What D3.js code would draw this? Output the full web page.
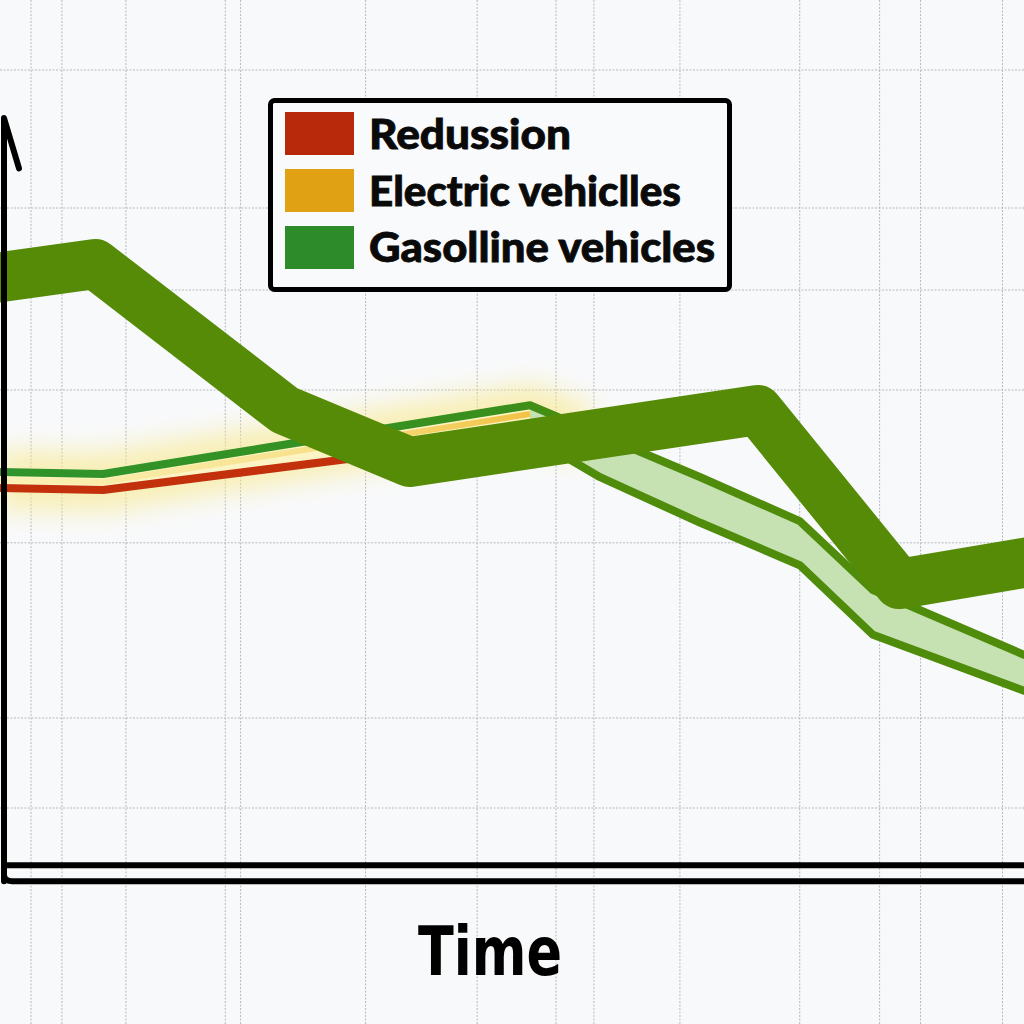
<!DOCTYPE html>
<html>
<head>
<meta charset="utf-8">
<script src="https://cdn.jsdelivr.net/npm/d3@7"></script>
<style>
  html, body { margin: 0; padding: 0; background: #f8f9fa; }
  svg { display: block; }
</style>
</head>
<body>
<div id="chart"></div>
<script>
// ---------- data (time units 0..100, value units 0..100) ----------
const legendLabels = ["Redussion", "Electric vehiclles", "Gasolline vehicles"];
const legendColors = ["#b8290c", "#e0a114", "#2e8b2a"];
const axisTitle = "Time";

// main (thick) gasoline line
const thickT = [-3, 0, 9.3, 27.8, 40.0, 74.0, 87.8, 100, 103];
const thickV = [73.6, 74.1, 75.75, 57.5, 51.0, 57.5, 35.75, 38.4, 39.05];

// thin green (upper) line
const greenT = [0, 10.06, 51.76, 68.4, 78.1, 85.25, 100, 101];
const greenV = [49.75, 49.5, 58.1, 49.1, 43.6, 35.0, 26.9, 26.45];

// red reduction line
const redT = [0, 10.06, 51.76];
const redV = [47.75, 47.5, 54.25];

// lower band line (continuation after reduction)
const lowerT = [51.76, 58.6, 68.4, 78.1, 85.25, 100, 101];
const lowerV = [54.25, 49.1, 43.4, 38.1, 29.4, 22.4, 22.0];

// electric vehicles (yellow) line
const yellowT = [0, 10.06, 51.76];
const yellowV = [48.75, 48.5, 57.0];

// grid positions
const gridT = [3.03, 6.05, 12.3, 22.0, 23.5, 35.7, 46.6, 54.3, 58.0, 66.4, 78.1, 85.9, 89.9, 97.9];
const gridV = [100, 82.75, 72.5, 60, 40.9, 19, 7.75];

// ---------- drawing ----------
const W = 1024, H = 1024;
const x = d3.scaleLinear().domain([0, 100]).range([0, 1024]);
const y = d3.scaleLinear().domain([0, 100]).range([870, 70]);

const svg = d3.select("#chart").append("svg").attr("width", W).attr("height", H);
svg.append("rect").attr("width", W).attr("height", H).attr("fill", "#f8f9fa");

const defs = svg.append("defs");
defs.append("filter").attr("id", "blur")
  .attr("x", "-20%").attr("y", "-80%").attr("width", "140%").attr("height", "260%")
  .append("feGaussianBlur").attr("stdDeviation", 12);
const yg = defs.append("linearGradient").attr("id", "ygrad")
  .attr("gradientUnits", "userSpaceOnUse")
  .attr("x1", x(0)).attr("x2", x(52)).attr("y1", 0).attr("y2", 0);
yg.append("stop").attr("offset", "0").attr("stop-color", "#fbf2b8");
yg.append("stop").attr("offset", "0.6").attr("stop-color", "#f7e08a");
yg.append("stop").attr("offset", "1").attr("stop-color", "#f2c244");

const zip = (T, V) => T.map((t, i) => [t, V[i]]);
const line = d3.line().x(d => x(d[0])).y(d => y(d[1]));

// grid
const grid = svg.append("g").attr("stroke", "#80858a").attr("stroke-width", 1)
  .attr("stroke-dasharray", "2,1.5").attr("opacity", 0.55);
grid.selectAll("line.v").data(gridT).join("line").attr("class", "v")
  .attr("x1", d => x(d)).attr("x2", d => x(d)).attr("y1", 0).attr("y2", H);
grid.selectAll("line.h").data(gridV).join("line").attr("class", "h")
  .attr("x1", 0).attr("x2", W).attr("y1", d => y(d)).attr("y2", d => y(d));

// glow around thin lines
svg.append("path").attr("d", line(zip(yellowT, yellowV).concat([[57, 54.5]])))
  .attr("fill", "none").attr("stroke", "#f8e889").attr("stroke-width", 60)
  .attr("opacity", 0.6).attr("filter", "url(#blur)");

// pale fill between green and red (left part)
const leftUpper = zip(greenT.slice(0, 3), greenV.slice(0, 3));
const leftLower = zip(redT, redV).reverse();
svg.append("path").attr("d", line(leftUpper.concat(leftLower)) + "Z")
  .attr("fill", "#fcf4c4");

// light green band fill (right part)
const bandUpper = zip(greenT.slice(2), greenV.slice(2));
const bandLower = zip(lowerT, lowerV).reverse();
svg.append("path").attr("d", line(bandUpper.concat(bandLower)) + "Z")
  .attr("fill", "#c6e2b2");

// yellow electric line
svg.append("path").attr("d", line(zip(yellowT, yellowV)))
  .attr("fill", "none").attr("stroke", "url(#ygrad)").attr("stroke-width", 6)
  .attr("stroke-linejoin", "round");

// red line
svg.append("path").attr("d", line(zip(redT, redV)))
  .attr("fill", "none").attr("stroke", "#c2300c").attr("stroke-width", 8)
  .attr("stroke-linejoin", "round");

// lower band line
svg.append("path").attr("d", line(zip(lowerT, lowerV)))
  .attr("fill", "none").attr("stroke", "#4f8c0c").attr("stroke-width", 8)
  .attr("stroke-linejoin", "round");

// thin green line (bright green on the left, olive on the right)
const ggrad = defs.append("linearGradient").attr("id", "ggrad")
  .attr("gradientUnits", "userSpaceOnUse")
  .attr("x1", x(0)).attr("x2", x(100)).attr("y1", 0).attr("y2", 0);
ggrad.append("stop").attr("offset", "0").attr("stop-color", "#2f942c");
ggrad.append("stop").attr("offset", "0.5").attr("stop-color", "#3a8f1c");
ggrad.append("stop").attr("offset", "0.56").attr("stop-color", "#4f8c0c");
ggrad.append("stop").attr("offset", "1").attr("stop-color", "#4f8c0c");
svg.append("path").attr("d", line(zip(greenT, greenV)))
  .attr("fill", "none").attr("stroke", "url(#ggrad)").attr("stroke-width", 8)
  .attr("stroke-linejoin", "round");

// thick main line
svg.append("path").attr("d", line(zip(thickT, thickV)))
  .attr("fill", "none").attr("stroke", "#558b06").attr("stroke-width", 50)
  .attr("stroke-linejoin", "round").attr("stroke-linecap", "butt");

// axes
const axes = svg.append("g").attr("fill", "none").attr("stroke", "#000")
  .attr("stroke-width", 6).attr("stroke-linecap", "round").attr("stroke-linejoin", "round");
axes.append("path").attr("d", `M${x(0) + 4},${y(-1.4)} L${x(0) + 4},${y(94.0)} L${x(0) + 19},${y(87.7)}`);
axes.append("path").attr("d", `M${x(0) + 7},${y(0.6)} L${W + 5},${y(0.6)}`);
axes.append("path").attr("d", `M${x(0) + 4},${y(0.6)} L${x(0) + 4},${y(-0.6)} Q${x(0) + 4},${y(-1.4)} ${x(0) + 12},${y(-1.4)} L${W + 5},${y(-1.4)}`);

// legend
const lg = svg.append("g");
lg.append("rect").attr("x", 270.5).attr("y", 100.5).attr("width", 459).attr("height", 189)
  .attr("rx", 4).attr("fill", "#f8fafb").attr("stroke", "#000").attr("stroke-width", 5);
const lenMap = [202, 312, 346];
legendLabels.forEach((lab, i) => {
  lg.append("rect").attr("x", 285).attr("y", 112 + i * 57).attr("width", 69).attr("height", 43)
    .attr("fill", legendColors[i]);
  lg.append("text").attr("x", 369).attr("y", 149 + i * 56.5)
    .attr("font-family", "Lato, 'Open Sans', sans-serif").attr("font-weight", 900)
    .attr("font-size", 41).attr("fill", "#0a0a0a")
    .attr("stroke", "#0a0a0a").attr("stroke-width", 0.8)
    .attr("textLength", lenMap[i]).attr("lengthAdjust", "spacingAndGlyphs")
    .text(lab);
});

// axis title
svg.append("text").attr("x", 418).attr("y", 975)
  .attr("font-family", "'DejaVu Sans', sans-serif").attr("font-weight", "bold")
  .attr("font-size", 68).attr("fill", "#000")
  .attr("textLength", 144).attr("lengthAdjust", "spacingAndGlyphs")
  .text(axisTitle);
</script>
</body>
</html>
